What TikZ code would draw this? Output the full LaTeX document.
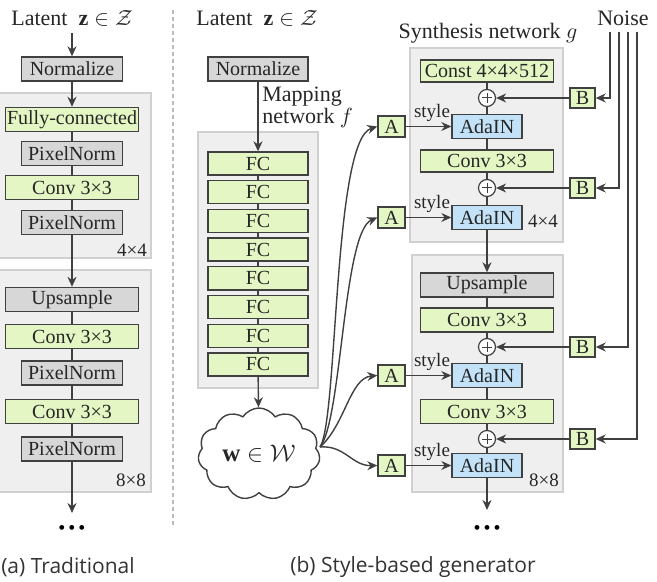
\documentclass[tikz,border=0pt]{standalone}
\usepackage{fontspec}
\setmainfont{Liberation Serif}
\newfontfamily\capfont{Open Sans}
\usetikzlibrary{shapes.symbols,arrows.meta}
\definecolor{gfill}{HTML}{E3F6C3}
\definecolor{grfill}{HTML}{D7D7D7}
\definecolor{blfill}{HTML}{C3E2F7}
\definecolor{pfill}{HTML}{EFEFEF}
\definecolor{pdraw}{HTML}{D0D0D0}
\definecolor{bdraw}{HTML}{404040}
\definecolor{txt}{HTML}{262626}
\definecolor{captxt}{HTML}{333333}
\definecolor{sep}{HTML}{BBBBBB}
\begin{document}
\begin{tikzpicture}[x=0.5pt,y=-0.5pt,
  box/.style={draw=bdraw, line width=0.7pt, inner sep=0pt, minimum height=12pt, text=txt, font=\fontsize{10}{12}\selectfont},
  greenbox/.style={box, fill=gfill},
  graybox/.style={box, fill=grfill},
  bluebox/.style={box, fill=blfill, minimum width=35pt},
  wide/.style={minimum width=66.5pt},
  narrow/.style={minimum width=50.5pt},
  abox/.style={greenbox, minimum width=13.5pt, minimum height=10.5pt},
  bnbox/.style={greenbox, minimum width=12.5pt, minimum height=10pt},
  panel/.style={fill=pfill, draw=pdraw, line width=0.6pt},
  conn/.style={draw=bdraw, line width=0.7pt},
  arr/.style={conn, -{Stealth[length=5pt,width=4.5pt]}},
  hdr/.style={text=txt, font=\fontsize{11}{12}\selectfont},
  lbl/.style={text=txt, inner sep=0pt, font=\fontsize{9.5}{11}\selectfont},
  dotsty/.style={text=black, inner sep=0pt, font=\fontsize{10}{10}\selectfont},
  capsty/.style={text=captxt, font=\capfont\fontsize{10.5}{12}\selectfont},
  plus/.style={circle, draw=bdraw, fill=white, line width=0.6pt, minimum size=8.5pt, inner sep=0pt,
    path picture={\draw[line width=0.5pt, bdraw]
      ([xshift=-2.4pt]path picture bounding box.center) -- ([xshift=2.4pt]path picture bounding box.center)
      ([yshift=-2.4pt]path picture bounding box.center) -- ([yshift=2.4pt]path picture bounding box.center);}}
]
\useasboundingbox (0,0) rectangle (657,582);

% ---------------- (a) Traditional ----------------
\node[hdr] (latA) at (72,18) {Latent\enspace$\mathbf{z}\in\mathcal{Z}$};
\node[graybox,narrow] (normA) at (72,69) {Normalize};
\draw[panel] (-5,93) rectangle (151,258);
\node[greenbox,wide] (fcA) at (72,119.5) {Fully-connected};
\node[graybox,narrow] (pnA1) at (72,153.5) {PixelNorm};
\node[greenbox,wide] (cvA1) at (72,187.5) {Conv 3×3};
\node[graybox,narrow] (pnA2) at (72,222.5) {PixelNorm};
\node[lbl] (resA1) at (132,250) {4×4};
\draw[panel] (-5,270) rectangle (151,492);
\node[graybox,wide] (upA) at (72,299.5) {Upsample};
\node[greenbox,wide] (cvA2) at (72,336.5) {Conv 3×3};
\node[graybox,narrow] (pnA3) at (72,373) {PixelNorm};
\node[greenbox,wide] (cvA3) at (72,411.5) {Conv 3×3};
\node[graybox,narrow] (pnA4) at (72,449) {PixelNorm};
\node[lbl] (resA2) at (131,480) {8×8};
\coordinate (endA) at (72,513);
\node[dotsty] (dotsA) at (72,530) {•\hspace{1.5pt}•\hspace{1.5pt}•};

\draw[arr] (latA) -- (normA);
\draw[arr] (normA) -- (fcA);
\draw[conn] (fcA) -- (pnA1) (pnA1) -- (cvA1) (cvA1) -- (pnA2);
\draw[arr] (pnA2) -- (upA);
\draw[conn] (upA) -- (cvA2) (cvA2) -- (pnA3) (pnA3) -- (cvA3) (cvA3) -- (pnA4);
\draw[arr] (pnA4) -- (endA);

\node[capsty] (capA) at (68,567) {(a) Traditional};

% separator
\coordinate (sepT) at (173,10);
\coordinate (sepB) at (173,527);
\draw[sep, line width=0.6pt, dash pattern=on 2pt off 1.5pt] (sepT) -- (sepB);

% ---------------- (b) Mapping network ----------------
\node[hdr] (latB) at (257,18) {Latent\enspace$\mathbf{z}\in\mathcal{Z}$};
\node[graybox,minimum width=50pt] (normB) at (258,69) {Normalize};
\node[hdr, anchor=north west, align=left, inner sep=0pt, font=\fontsize{11}{10}\selectfont] (mapT) at (262,87) {Mapping\\network $f$};
\draw[panel] (198,132) rectangle (318,388);
\foreach \i in {1,...,8} {
  \node[greenbox, minimum width=50pt, minimum height=11.5pt] (fc\i) at (258,{163.5+28.7*(\i-1)}) {FC};
}
\foreach \i/\j in {1/2,2/3,3/4,4/5,5/6,6/7,7/8} {
  \draw[conn] (fc\i) -- (fc\j);
}
\draw[arr] (normB) -- (fc1);
\node[cloud, draw=bdraw, line width=0.7pt, fill=white, cloud puffs=11, cloud puff arc=115, aspect=1.35,
  minimum width=61pt, minimum height=46pt, inner sep=0pt, text=txt, font=\fontsize{12.5}{14}\selectfont]
  (cloud) at (259,454) {$\mathbf{w}\in\mathcal{W}$};
\draw[arr] (fc8) -- (cloud);
\coordinate (wsrc) at (320,447);

% ---------------- (b) Synthesis network ----------------
\node[hdr] (synT) at (488,33) {Synthesis network $g$};
\node[hdr] (noiseT) at (623,18) {Noise};

\draw[panel] (410,48) rectangle (563,242);
\node[greenbox, wide, minimum height=11pt] (const) at (487,71) {Const 4×4×512};
\node[plus] (p1) at (487,98) {};
\node[bluebox] (ada1) at (487,126.5) {AdaIN};
\node[greenbox, wide, minimum height=11pt] (cv1) at (487,161) {Conv 3×3};
\node[plus] (p2) at (487,188) {};
\node[bluebox] (ada2) at (487,217.5) {AdaIN};
\node[lbl] (res1) at (543,221) {4×4};

\draw[panel] (412,255) rectangle (563,492);
\node[graybox, wide] (up) at (487,285) {Upsample};
\node[greenbox, wide] (cv2) at (487,320) {Conv 3×3};
\node[plus] (p3) at (487,347) {};
\node[bluebox] (ada3) at (487,375.5) {AdaIN};
\node[greenbox, wide] (cv3) at (487,411.5) {Conv 3×3};
\node[plus] (p4) at (487,439) {};
\node[bluebox] (ada4) at (487,465.5) {AdaIN};
\node[lbl] (res2) at (544,480) {8×8};
\coordinate (endB) at (487,510);
\node[dotsty] (dotsB) at (487,530) {•\hspace{1.5pt}•\hspace{1.5pt}•};

\draw[conn] (const) -- (p1) (p1) -- (ada1) (ada1) -- (cv1) (cv1) -- (p2) (p2) -- (ada2);
\draw[arr] (ada2) -- (up);
\draw[conn] (up) -- (cv2) (cv2) -- (p3) (p3) -- (ada3) (ada3) -- (cv3) (cv3) -- (p4) (p4) -- (ada4);
\draw[arr] (ada4) -- (endB);

% A boxes and style
\node[abox] (a1) at (391.5,126.5) {A};
\node[abox] (a2) at (391.5,217.5) {A};
\node[abox] (a3) at (391.5,375.5) {A};
\node[abox] (a4) at (391.5,465.5) {A};
\node[lbl] (s1) at (432,113) {style};
\node[lbl] (s2) at (432,204) {style};
\node[lbl] (s3) at (432,362) {style};
\node[lbl] (s4) at (432,452) {style};
\draw[arr] (a1) -- (ada1);
\draw[arr] (a2) -- (ada2);
\draw[arr] (a3) -- (ada3);
\draw[arr] (a4) -- (ada4);

% B boxes and noise
\node[bnbox] (b1) at (582.5,98) {B};
\node[bnbox] (b2) at (582.5,188) {B};
\node[bnbox] (b3) at (582.5,347) {B};
\node[bnbox] (b4) at (582.5,439) {B};
\draw[arr] (b1) -- (p1);
\draw[arr] (b2) -- (p2);
\draw[arr] (b3) -- (p3);
\draw[arr] (b4) -- (p4);
\coordinate (n1) at (610,32);
\coordinate (n2) at (619,32);
\coordinate (n3) at (628,32);
\coordinate (n4) at (637,32);
\draw[arr] (n1) |- (b1);
\draw[arr] (n2) |- (b2);
\draw[arr] (n3) |- (b3);
\draw[arr] (n4) |- (b4);

% w to A curves
\draw[arr] (wsrc) .. controls (338,420) and (333,140) .. (a1.west);
\draw[arr] (wsrc) .. controls (342,420) and (343,232) .. (a2.west);
\draw[arr] (wsrc) .. controls (345,425) and (350,378) .. (a3.west);
\draw[arr] (wsrc) .. controls (345,445) and (352,466) .. (a4.west);

\node[capsty] (capB) at (413,567) {(b) Style-based generator};
\end{tikzpicture}
\end{document}
